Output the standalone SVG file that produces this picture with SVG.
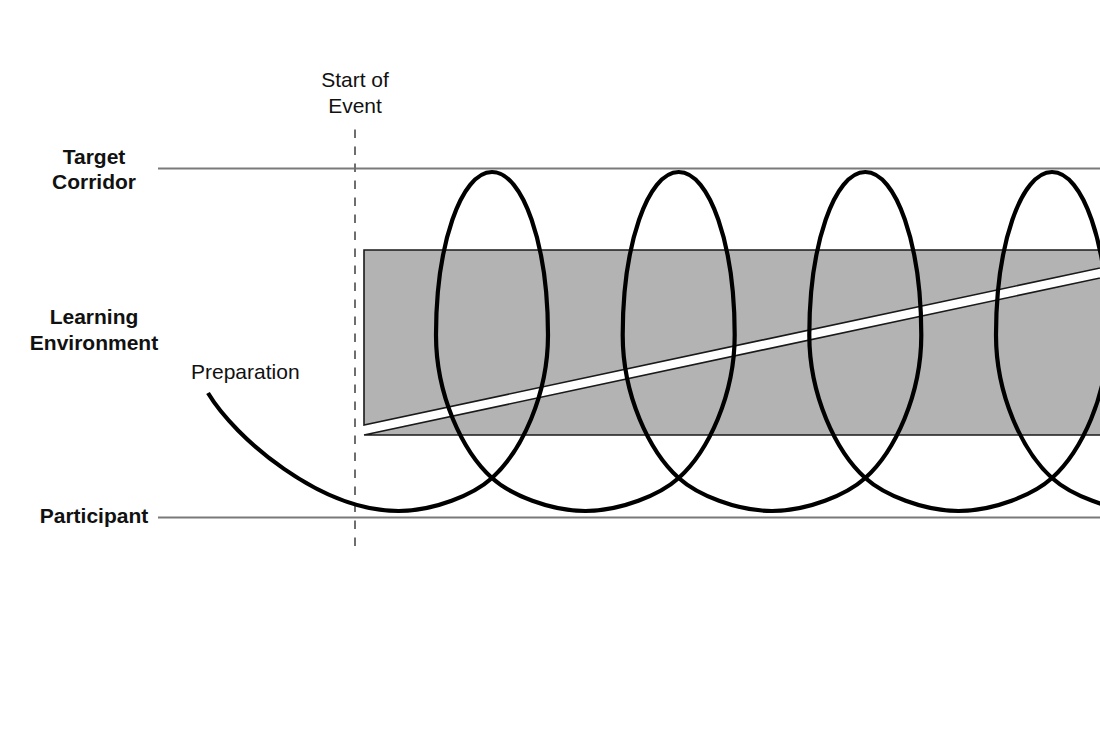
<svg xmlns="http://www.w3.org/2000/svg" width="1100" height="732" viewBox="0 0 1100 732">
  <style>
    .lbl { font-family: "Liberation Sans", Arial, sans-serif; font-size: 21px; fill: #111; }
    .bold { font-weight: bold; text-anchor: middle; }
    .mid { text-anchor: middle; }
    .guide { stroke: #7a7a7a; stroke-width: 2; fill: none; }
    .edge { stroke: #1a1a1a; stroke-width: 1.6; fill: none; }
    .dash { stroke: #6e6e6e; stroke-width: 2; stroke-dasharray: 8.5 8.5; fill: none; }
    .spiral { stroke: #000; stroke-width: 4.2; fill: none; stroke-linejoin: round; }
  </style>
  <rect width="1100" height="732" fill="#fff"/>

  <g id="learning-environment">
    <rect x="364" y="250" width="760" height="185" fill="#b3b3b3"/>
    <polygon points="364,425 1120,263.7 1120,273.7 364,435" fill="#fff"/>
    <path class="edge" d="M1120 250 H364 V425 L1120 263.7 M364 435 L1120 273.7 M364 435 H1120"/>
  </g>

  <g id="guides">
    <line id="target-line" class="guide" x1="158" y1="168.5" x2="1100" y2="168.5"/>
    <line id="participant-line" class="guide" x1="158" y1="517.5" x2="1100" y2="517.5"/>
    <line id="start-of-event-line" class="dash" x1="355" y1="129.5" x2="355" y2="553"/>
  </g>

  <g id="labels">
    <g id="target-corridor"><text class="lbl bold" x="94" y="164">Target</text><text class="lbl bold" x="94" y="189">Corridor</text></g>
    <g id="learning-environment-label"><text class="lbl bold" x="94" y="324">Learning</text><text class="lbl bold" x="94" y="350">Environment</text></g>
    <g id="participant"><text class="lbl bold" x="94" y="523">Participant</text></g>
    <g id="start-of-event"><text class="lbl mid" x="355" y="87">Start of</text><text class="lbl mid" x="355" y="113">Event</text></g>
    <g id="preparation"><text class="lbl" x="191" y="379">Preparation</text></g>
  </g>

  <g id="connectors">
    <path id="spiral" class="spiral" d="M208 393 C235 438 320 511 398.7 511
      C434 511 473.5 494.75 492 478 C521.6 451.2 548 395 548 335 C548 245 523 172 492 172 C461 172 436 245 436 335 C436 395 462.4 451.2 492 478 C510.5 494.75 550 511 585.3 511
      C620.7 511 660.2 494.75 678.7 478 C708.3 451.2 734.7 395 734.7 335 C734.7 245 709.7 172 678.7 172 C647.7 172 622.7 245 622.7 335 C622.7 395 649.1 451.2 678.7 478 C697.2 494.75 736.7 511 772 511
      C807.3 511 846.8 494.75 865.3 478 C894.9 451.2 921.3 395 921.3 335 C921.3 245 896.3 172 865.3 172 C834.3 172 809.3 245 809.3 335 C809.3 395 835.7 451.2 865.3 478 C883.8 494.75 923.3 511 958.6 511
      C994 511 1033.5 494.75 1052 478 C1081.6 451.2 1108 395 1108 335 C1108 245 1083 172 1052 172 C1021 172 996 245 996 335 C996 395 1022.4 451.2 1052 478 C1070.5 494.75 1110 511 1145.3 511"/>
  </g>
</svg>
